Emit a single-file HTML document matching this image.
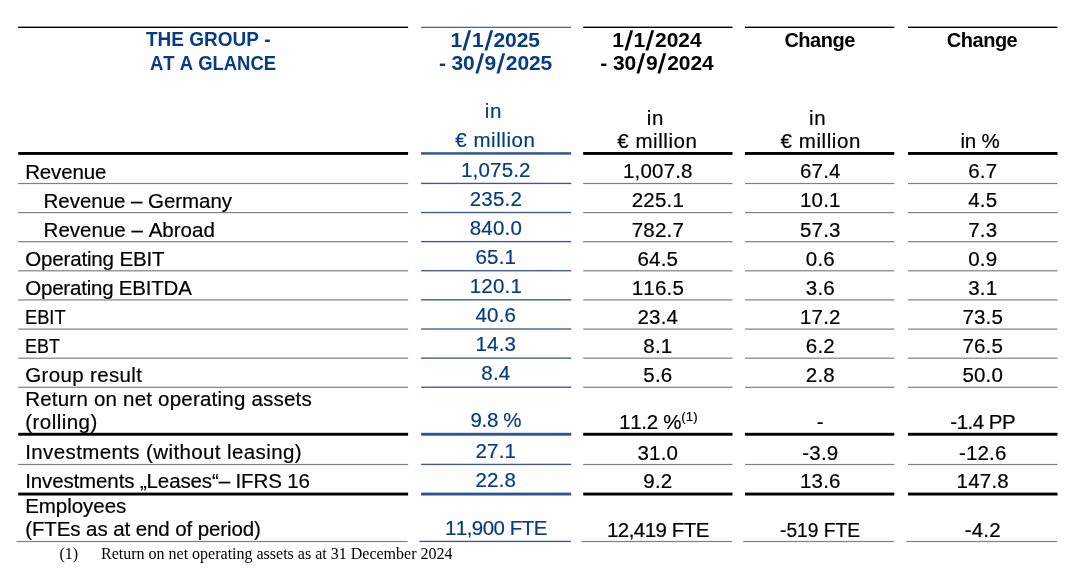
<!DOCTYPE html>
<html lang="en">
<head>
<meta charset="utf-8">
<title>The Group at a glance</title>
<style>
html,body{margin:0;padding:0;background:#fff;}
body{width:1080px;height:573px;position:relative;overflow:hidden;font-family:"Liberation Sans",sans-serif;color:#000;font-kerning:none;}
#rules{position:absolute;left:0;top:0;width:1080px;height:573px;}
.t{position:absolute;white-space:nowrap;font-size:20.5px;line-height:31px;height:31px;-webkit-text-stroke:0.2px currentColor;}
.b{font-weight:bold;font-size:20.0px;line-height:30px;height:30px;-webkit-text-stroke:0;}
.d{font-size:21px;line-height:31px;height:31px;}
.s{display:inline-block;width:9.85px;text-align:center;letter-spacing:0;transform:translateY(1px) skewX(-7deg) scale(1.15,1.3);}
.blue{color:#083b85;}
.x{transform-origin:0 50%;}
.fn{position:absolute;white-space:nowrap;font-family:"Liberation Serif",serif;font-size:16px;line-height:20px;height:20px;color:#000;}
sup.r{font-size:13.2px;line-height:0;vertical-align:baseline;position:relative;top:-7.6px;letter-spacing:0.1px;}
</style>
</head>
<body>
<svg id="rules" width="1080" height="573" viewBox="0 0 1080 573">
<rect x="18.20" y="26.60" width="389.90" height="1.40" fill="#000"/>
<rect x="421.10" y="26.75" width="150.10" height="1.15" fill="#2f5496"/>
<rect x="583.20" y="26.60" width="149.30" height="1.40" fill="#000"/>
<rect x="745.00" y="26.60" width="149.30" height="1.40" fill="#000"/>
<rect x="908.00" y="26.60" width="149.50" height="1.40" fill="#000"/>
<rect x="18.20" y="152.00" width="389.90" height="2.90" fill="#000"/>
<rect x="421.10" y="152.20" width="150.10" height="2.45" fill="#2f5496"/>
<rect x="583.20" y="152.00" width="149.30" height="2.90" fill="#000"/>
<rect x="745.00" y="152.00" width="149.30" height="2.90" fill="#000"/>
<rect x="908.00" y="152.00" width="149.50" height="2.90" fill="#000"/>
<rect x="18.20" y="182.90" width="389.90" height="1.20" fill="#7e8184"/>
<rect x="421.10" y="182.75" width="150.10" height="1.35" fill="#3d5a8a"/>
<rect x="583.20" y="182.90" width="149.30" height="1.20" fill="#7e8184"/>
<rect x="745.00" y="182.90" width="149.30" height="1.20" fill="#7e8184"/>
<rect x="908.00" y="182.90" width="149.50" height="1.20" fill="#7e8184"/>
<rect x="18.20" y="212.00" width="389.90" height="1.20" fill="#7e8184"/>
<rect x="421.10" y="211.85" width="150.10" height="1.35" fill="#3d5a8a"/>
<rect x="583.20" y="212.00" width="149.30" height="1.20" fill="#7e8184"/>
<rect x="745.00" y="212.00" width="149.30" height="1.20" fill="#7e8184"/>
<rect x="908.00" y="212.00" width="149.50" height="1.20" fill="#7e8184"/>
<rect x="18.20" y="241.10" width="389.90" height="1.20" fill="#7e8184"/>
<rect x="421.10" y="240.95" width="150.10" height="1.35" fill="#3d5a8a"/>
<rect x="583.20" y="241.10" width="149.30" height="1.20" fill="#7e8184"/>
<rect x="745.00" y="241.10" width="149.30" height="1.20" fill="#7e8184"/>
<rect x="908.00" y="241.10" width="149.50" height="1.20" fill="#7e8184"/>
<rect x="18.20" y="270.20" width="389.90" height="1.20" fill="#7e8184"/>
<rect x="421.10" y="270.05" width="150.10" height="1.35" fill="#3d5a8a"/>
<rect x="583.20" y="270.20" width="149.30" height="1.20" fill="#7e8184"/>
<rect x="745.00" y="270.20" width="149.30" height="1.20" fill="#7e8184"/>
<rect x="908.00" y="270.20" width="149.50" height="1.20" fill="#7e8184"/>
<rect x="18.20" y="299.30" width="389.90" height="1.20" fill="#7e8184"/>
<rect x="421.10" y="299.15" width="150.10" height="1.35" fill="#3d5a8a"/>
<rect x="583.20" y="299.30" width="149.30" height="1.20" fill="#7e8184"/>
<rect x="745.00" y="299.30" width="149.30" height="1.20" fill="#7e8184"/>
<rect x="908.00" y="299.30" width="149.50" height="1.20" fill="#7e8184"/>
<rect x="18.20" y="328.50" width="389.90" height="1.20" fill="#7e8184"/>
<rect x="421.10" y="328.35" width="150.10" height="1.35" fill="#3d5a8a"/>
<rect x="583.20" y="328.50" width="149.30" height="1.20" fill="#7e8184"/>
<rect x="745.00" y="328.50" width="149.30" height="1.20" fill="#7e8184"/>
<rect x="908.00" y="328.50" width="149.50" height="1.20" fill="#7e8184"/>
<rect x="18.20" y="357.60" width="389.90" height="1.20" fill="#7e8184"/>
<rect x="421.10" y="357.45" width="150.10" height="1.35" fill="#3d5a8a"/>
<rect x="583.20" y="357.60" width="149.30" height="1.20" fill="#7e8184"/>
<rect x="745.00" y="357.60" width="149.30" height="1.20" fill="#7e8184"/>
<rect x="908.00" y="357.60" width="149.50" height="1.20" fill="#7e8184"/>
<rect x="18.20" y="386.70" width="389.90" height="1.20" fill="#7e8184"/>
<rect x="421.10" y="386.55" width="150.10" height="1.35" fill="#3d5a8a"/>
<rect x="583.20" y="386.70" width="149.30" height="1.20" fill="#7e8184"/>
<rect x="745.00" y="386.70" width="149.30" height="1.20" fill="#7e8184"/>
<rect x="908.00" y="386.70" width="149.50" height="1.20" fill="#7e8184"/>
<rect x="18.20" y="432.80" width="389.90" height="2.90" fill="#000"/>
<rect x="421.10" y="432.80" width="150.10" height="2.90" fill="#2f5496"/>
<rect x="583.20" y="432.80" width="149.30" height="2.90" fill="#000"/>
<rect x="745.00" y="432.80" width="149.30" height="2.90" fill="#000"/>
<rect x="908.00" y="432.80" width="149.50" height="2.90" fill="#000"/>
<rect x="18.20" y="463.90" width="389.90" height="1.20" fill="#7e8184"/>
<rect x="421.10" y="463.75" width="150.10" height="1.35" fill="#3d5a8a"/>
<rect x="583.20" y="463.90" width="149.30" height="1.20" fill="#7e8184"/>
<rect x="745.00" y="463.90" width="149.30" height="1.20" fill="#7e8184"/>
<rect x="908.00" y="463.90" width="149.50" height="1.20" fill="#7e8184"/>
<rect x="18.20" y="492.60" width="389.90" height="2.90" fill="#000"/>
<rect x="421.10" y="492.60" width="150.10" height="2.90" fill="#2f5496"/>
<rect x="583.20" y="492.60" width="149.30" height="2.90" fill="#000"/>
<rect x="745.00" y="492.60" width="149.30" height="2.90" fill="#000"/>
<rect x="908.00" y="492.60" width="149.50" height="2.90" fill="#000"/>
<rect x="16.50" y="540.90" width="391.20" height="1.20" fill="#7e8184"/>
<rect x="419.40" y="540.75" width="151.40" height="1.35" fill="#3d5a8a"/>
<rect x="581.50" y="540.90" width="150.60" height="1.20" fill="#7e8184"/>
<rect x="743.30" y="540.90" width="150.60" height="1.20" fill="#7e8184"/>
<rect x="906.30" y="540.90" width="150.80" height="1.20" fill="#7e8184"/>
</svg>
<div class="t b blue x" style="left:146.03px;top:24px;transform:scaleX(0.9498);">THE GROUP -</div>
<div class="t b blue x" style="left:150.06px;top:48px;transform:scaleX(0.9226);">AT A GLANCE</div>
<div class="t b d blue" style="left:450.50px;top:24px;letter-spacing:-0.062px;">1<span class="s">/</span>1<span class="s">/</span>2025</div>
<div class="t b d blue" style="left:438.89px;top:47px;letter-spacing:-0.118px;">- 30<span class="s">/</span>9<span class="s">/</span>2025</div>
<div class="t blue" style="left:484.75px;top:95px;letter-spacing:0.673px;">in</div>
<div class="t blue" style="left:455.26px;top:124px;letter-spacing:0.565px;">€ million</div>
<div class="t b d" style="left:612.15px;top:24px;letter-spacing:-0.062px;">1<span class="s">/</span>1<span class="s">/</span>2024</div>
<div class="t b d" style="left:600.34px;top:47px;letter-spacing:-0.118px;">- 30<span class="s">/</span>9<span class="s">/</span>2024</div>
<div class="t" style="left:646.70px;top:102px;letter-spacing:0.673px;">in</div>
<div class="t" style="left:617.21px;top:125px;letter-spacing:0.565px;">€ million</div>
<div class="t b" style="left:784.42px;top:25px;letter-spacing:-0.482px;">Change</div>
<div class="t" style="left:809.00px;top:102px;letter-spacing:0.673px;">in</div>
<div class="t" style="left:780.61px;top:125px;letter-spacing:0.565px;">€ million</div>
<div class="t b" style="left:946.82px;top:25px;letter-spacing:-0.482px;">Change</div>
<div class="t" style="left:960.57px;top:125px;letter-spacing:-0.253px;">in %</div>
<div class="t" style="left:25.20px;top:156px;letter-spacing:-0.138px;">Revenue</div>
<div class="t blue" style="left:461.06px;top:154px;letter-spacing:0.170px;">1,075.2</div>
<div class="t" style="left:623.06px;top:155px;letter-spacing:0.170px;">1,007.8</div>
<div class="t" style="left:800.03px;top:155px;letter-spacing:0.184px;">67.4</div>
<div class="t" style="left:968.24px;top:155px;letter-spacing:0.174px;">6.7</div>
<div class="t" style="left:43.60px;top:185px;letter-spacing:-0.043px;">Revenue – Germany</div>
<div class="t blue" style="left:469.72px;top:183px;letter-spacing:0.191px;">235.2</div>
<div class="t" style="left:631.72px;top:184px;letter-spacing:0.191px;">225.1</div>
<div class="t" style="left:800.03px;top:184px;letter-spacing:0.184px;">10.1</div>
<div class="t" style="left:968.24px;top:184px;letter-spacing:0.174px;">4.5</div>
<div class="t" style="left:43.60px;top:214px;letter-spacing:0.020px;">Revenue – Abroad</div>
<div class="t blue" style="left:469.72px;top:212px;letter-spacing:0.191px;">840.0</div>
<div class="t" style="left:631.72px;top:214px;letter-spacing:0.191px;">782.7</div>
<div class="t" style="left:800.03px;top:214px;letter-spacing:0.184px;">57.3</div>
<div class="t" style="left:968.24px;top:214px;letter-spacing:0.174px;">7.3</div>
<div class="t" style="left:25.20px;top:243px;letter-spacing:-0.153px;">Operating EBIT</div>
<div class="t blue" style="left:475.53px;top:241px;letter-spacing:0.184px;">65.1</div>
<div class="t" style="left:637.53px;top:243px;letter-spacing:0.184px;">64.5</div>
<div class="t" style="left:805.84px;top:243px;letter-spacing:0.174px;">0.6</div>
<div class="t" style="left:968.24px;top:243px;letter-spacing:0.174px;">0.9</div>
<div class="t" style="left:25.20px;top:272px;letter-spacing:-0.204px;">Operating EBITDA</div>
<div class="t blue" style="left:469.72px;top:270px;letter-spacing:0.191px;">120.1</div>
<div class="t" style="left:631.72px;top:272px;letter-spacing:0.191px;">116.5</div>
<div class="t" style="left:805.84px;top:272px;letter-spacing:0.174px;">3.6</div>
<div class="t" style="left:968.24px;top:272px;letter-spacing:0.174px;">3.1</div>
<div class="t x" style="left:25.20px;top:301px;transform:scaleX(0.8911);">EBIT</div>
<div class="t blue" style="left:475.53px;top:299px;letter-spacing:0.184px;">40.6</div>
<div class="t" style="left:637.53px;top:301px;letter-spacing:0.184px;">23.4</div>
<div class="t" style="left:800.03px;top:301px;letter-spacing:0.184px;">17.2</div>
<div class="t" style="left:962.43px;top:301px;letter-spacing:0.184px;">73.5</div>
<div class="t x" style="left:25.20px;top:330px;transform:scaleX(0.8736);">EBT</div>
<div class="t blue" style="left:475.53px;top:328px;letter-spacing:0.184px;">14.3</div>
<div class="t" style="left:643.34px;top:330px;letter-spacing:0.174px;">8.1</div>
<div class="t" style="left:805.84px;top:330px;letter-spacing:0.174px;">6.2</div>
<div class="t" style="left:962.43px;top:330px;letter-spacing:0.184px;">76.5</div>
<div class="t" style="left:25.20px;top:359px;letter-spacing:0.362px;">Group result</div>
<div class="t blue" style="left:481.34px;top:357px;letter-spacing:0.174px;">8.4</div>
<div class="t" style="left:643.34px;top:359px;letter-spacing:0.174px;">5.6</div>
<div class="t" style="left:805.84px;top:359px;letter-spacing:0.174px;">2.8</div>
<div class="t" style="left:962.43px;top:359px;letter-spacing:0.184px;">50.0</div>
<div class="t blue" style="left:470.56px;top:404px;letter-spacing:-0.367px;">9.8 %</div>
<div class="t" style="left:619.00px;top:406px;letter-spacing:-0.270px;">11.2 %<sup class="r">(1)</sup></div>
<div class="t" style="left:816.84px;top:406px;letter-spacing:0.190px;">-</div>
<div class="t" style="left:950.30px;top:406px;letter-spacing:-0.495px;">-1.4 PP</div>
<div class="t" style="left:25.20px;top:436px;letter-spacing:0.388px;">Investments (without leasing)</div>
<div class="t blue" style="left:475.53px;top:435px;letter-spacing:0.184px;">27.1</div>
<div class="t" style="left:637.53px;top:437px;letter-spacing:0.184px;">31.0</div>
<div class="t" style="left:802.33px;top:437px;letter-spacing:0.178px;">-3.9</div>
<div class="t" style="left:958.92px;top:437px;letter-spacing:0.186px;">-12.6</div>
<div class="t" style="left:25.20px;top:465px;letter-spacing:-0.126px;">Investments „Leases“– IFRS 16</div>
<div class="t blue" style="left:475.53px;top:464px;letter-spacing:0.184px;">22.8</div>
<div class="t" style="left:643.34px;top:465px;letter-spacing:0.174px;">9.2</div>
<div class="t" style="left:800.03px;top:465px;letter-spacing:0.184px;">13.6</div>
<div class="t" style="left:956.62px;top:465px;letter-spacing:0.191px;">147.8</div>
<div class="t blue" style="left:444.91px;top:512px;letter-spacing:-0.524px;">11,900 FTE</div>
<div class="t" style="left:606.91px;top:514px;letter-spacing:-0.524px;">12,419 FTE</div>
<div class="t x" style="left:780.38px;top:514px;transform:scaleX(0.9356);">-519 FTE</div>
<div class="t" style="left:964.73px;top:514px;letter-spacing:0.178px;">-4.2</div>
<div class="t" style="left:25.20px;top:383px;letter-spacing:0.215px;">Return on net operating assets</div>
<div class="t" style="left:25.20px;top:406px;letter-spacing:0.471px;">(rolling)</div>
<div class="t" style="left:25.20px;top:490px;letter-spacing:-0.041px;">Employees</div>
<div class="t" style="left:25.20px;top:513px;letter-spacing:-0.095px;">(FTEs as at end of period)</div>
<div class="fn" style="left:59.5px;top:544.3px;">(1)</div>
<div class="fn" style="left:101.0px;top:544.3px;">Return on net operating assets as at 31 December 2024</div>
</body>
</html>
